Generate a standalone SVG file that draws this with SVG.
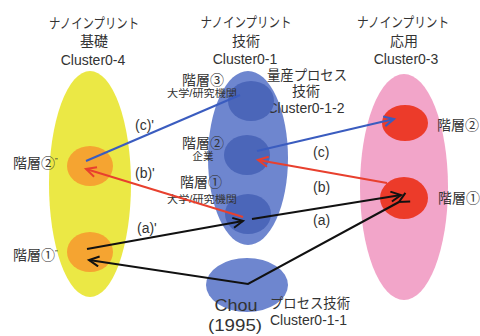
<svg xmlns="http://www.w3.org/2000/svg" width="480" height="336" viewBox="0 0 480 336">
<style>
text{font-family:"Liberation Sans","Noto Sans CJK JP",sans-serif;fill:#333;}
.t{font-size:14px;text-anchor:middle;}
.l{font-size:14px;}
.s{font-size:10.5px;text-anchor:middle;}
.b{font-size:16px;text-anchor:middle;}
.c{fill:none;stroke-width:2;}
</style>
<defs>
<marker id="ab" markerUnits="userSpaceOnUse" markerWidth="14" markerHeight="14" refX="11" refY="6" orient="auto"><path d="M1,1 L11,6 L1,11" fill="none" stroke="#3a5cbf" stroke-width="2"/></marker>
<marker id="ar" markerUnits="userSpaceOnUse" markerWidth="14" markerHeight="14" refX="11" refY="6" orient="auto"><path d="M1,1 L11,6 L1,11" fill="none" stroke="#e8402e" stroke-width="2"/></marker>
<marker id="ak" markerUnits="userSpaceOnUse" markerWidth="14" markerHeight="14" refX="11" refY="6" orient="auto"><path d="M1,1 L11,6 L1,11" fill="none" stroke="#111" stroke-width="2"/></marker>
</defs>
<rect width="480" height="336" fill="#fff"/>

<g id="cluster0-4">
<ellipse cx="90" cy="184" rx="41" ry="113" fill="#ebe845"/>
<text class="t" x="94" y="28" textLength="90" lengthAdjust="spacingAndGlyphs">ナノインプリント</text>
<text class="t" x="94" y="46">基礎</text>
<text class="t" x="93" y="65">Cluster0-4</text>
</g>
<g id="cluster0-1">
<ellipse cx="248" cy="158" rx="40" ry="87" fill="#6e86cf"/>
<text class="t" x="246" y="27" textLength="91" lengthAdjust="spacingAndGlyphs">ナノインプリント</text>
<text class="t" x="246" y="46">技術</text>
<text class="t" x="245" y="64">Cluster0-1</text>
</g>
<g id="cluster0-3">
<ellipse cx="404" cy="187" rx="44" ry="113" fill="#f2a5c9"/>
<text class="t" x="403" y="27" textLength="92" lengthAdjust="spacingAndGlyphs">ナノインプリント</text>
<text class="t" x="404" y="46">応用</text>
<text class="t" x="406" y="64">Cluster0-3</text>
</g>
<g id="cluster0-1-1">
<ellipse cx="247" cy="285" rx="41" ry="27" fill="#6e86cf"/>
<text class="b" x="236" y="311" textLength="43" lengthAdjust="spacingAndGlyphs">Chou</text>
<text class="b" x="235" y="331" textLength="54" lengthAdjust="spacingAndGlyphs">(1995)</text>
<text class="l" x="270" y="308" textLength="80" lengthAdjust="spacingAndGlyphs">プロセス技術</text>
<text class="l" x="270" y="325">Cluster0-1-1</text>
</g>
<g id="cluster0-1-2">
<text class="t" x="307" y="80" textLength="80" lengthAdjust="spacingAndGlyphs">量産プロセス</text>
<text class="t" x="306" y="96">技術</text>
<text class="t" x="306" y="113">Cluster0-1-2</text>
</g>

<g id="l4-2">
<ellipse cx="90" cy="166" rx="23" ry="20" fill="#f5a431"/>
<text class="l" x="13" y="168">階層②<tspan style="font-size:8px" dy="-5">”</tspan></text>
</g>
<g id="l4-1">
<ellipse cx="90" cy="252" rx="23" ry="20" fill="#f5a431"/>
<text class="l" x="13" y="260">階層①<tspan style="font-size:8px" dy="-5">”</tspan></text>
</g>
<g id="l1-3">
<ellipse cx="251" cy="101" rx="23" ry="20" fill="#4b66b9"/>
<text class="t" x="203" y="85">階層③</text>
<text class="s" x="202" y="97" textLength="70" lengthAdjust="spacingAndGlyphs">大学/研究機関</text>
</g>
<g id="l1-2">
<ellipse cx="247" cy="155" rx="23" ry="20" fill="#4b66b9"/>
<text class="t" x="203" y="148">階層②</text>
<text class="s" x="203" y="160">企業</text>
</g>
<g id="l1-1">
<ellipse cx="248" cy="214" rx="23" ry="20" fill="#4b66b9"/>
<text class="t" x="201" y="187">階層①</text>
<text class="s" x="202" y="203" textLength="70" lengthAdjust="spacingAndGlyphs">大学/研究機関</text>
</g>
<g id="l3-2">
<ellipse cx="405" cy="123" rx="23" ry="18" fill="#ec3b2a"/>
<text class="l" x="437" y="130">階層②</text>
</g>
<g id="l3-1">
<ellipse cx="404" cy="198" rx="24" ry="21" fill="#ec3b2a"/>
<text class="l" x="438" y="203">階層①</text>
</g>

<g id="connectors">
<line class="c" x1="86" y1="161" x2="240" y2="95" stroke="#3a5cbf"/>
<line class="c" x1="257" y1="151" x2="394" y2="119" stroke="#3a5cbf" marker-end="url(#ab)"/>
<line class="c" x1="387" y1="183" x2="258" y2="160" stroke="#e8402e" marker-end="url(#ar)"/>
<line class="c" x1="243" y1="217" x2="86" y2="169" stroke="#e8402e" marker-end="url(#ar)"/>
<line class="c" x1="252" y1="219" x2="401" y2="195" stroke="#111" marker-end="url(#ak)"/>
<line class="c" x1="87" y1="249" x2="243" y2="221" stroke="#111" marker-end="url(#ak)"/>
<polyline class="c" points="399,202 248,284 89,260" stroke="#111" marker-start="url(#ak)" marker-end="url(#ak)"/>
<text class="l" x="135" y="130">(c)'</text>
<text class="l" x="135" y="178">(b)'</text>
<text class="l" x="137" y="233">(a)'</text>
<text class="l" x="313" y="157">(c)</text>
<text class="l" x="313" y="192">(b)</text>
<text class="l" x="313" y="225">(a)</text>
</g>
</svg>
